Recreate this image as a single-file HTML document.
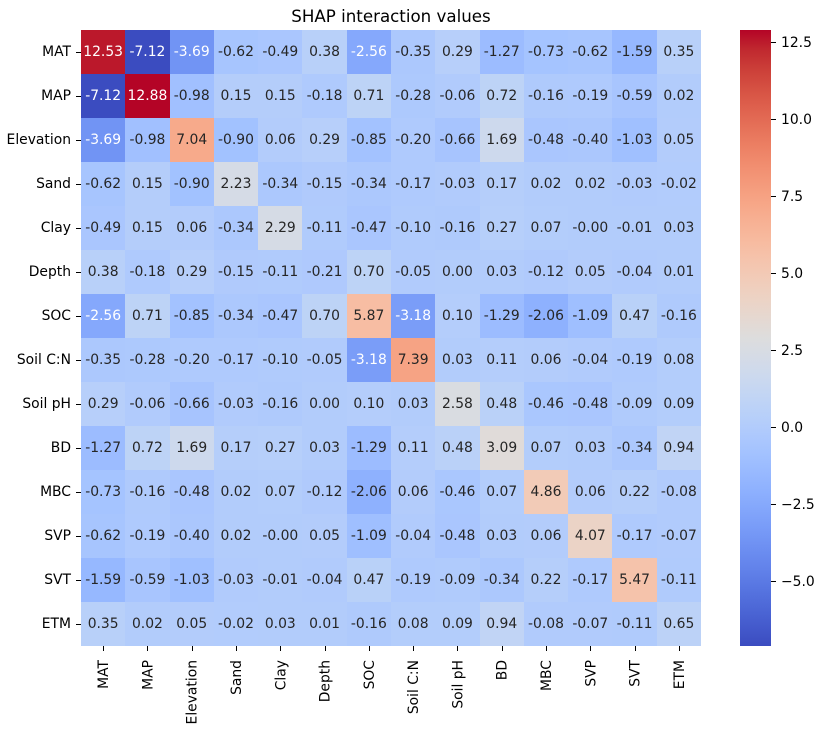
<!DOCTYPE html>
<html lang="en">
<head>
<meta charset="utf-8">
<title>SHAP interaction values</title>
<style>
html,body{margin:0;padding:0;background:#fff;width:821px;height:730px;overflow:hidden}
svg{display:block}
text{font-family:"DejaVu Sans","Liberation Sans",sans-serif}
</style>
</head>
<body>
<svg id="chart" xmlns="http://www.w3.org/2000/svg" width="821" height="730" viewBox="0 0 821 730">
  <defs>
    <linearGradient id="cbar-gradient" x1="0" y1="1" x2="0" y2="0"></linearGradient>
  </defs>
  <text x="391" y="22" text-anchor="middle" font-size="16.67" fill="#000">SHAP interaction values</text>
  <g id="cells"></g>
  <g id="annotations"></g>
  <g id="y-axis"></g>
  <g id="x-axis"></g>
  <rect id="cbar" fill="url(#cbar-gradient)"></rect>
  <g id="cbar-axis"></g>
</svg>
<script>
const categories = ["MAT","MAP","Elevation","Sand","Clay","Depth","SOC","Soil C:N","Soil pH","BD","MBC","SVP","SVT","ETM"];
const rowMAT = [12.53,-7.12,-3.69,-0.62,-0.49,0.38,-2.56,-0.35,0.29,-1.27,-0.73,-0.62,-1.59,0.35];
const rowMAP = [-7.12,12.88,-0.98,0.15,0.15,-0.18,0.71,-0.28,-0.06,0.72,-0.16,-0.19,-0.59,0.02];
const rowElevation = [-3.69,-0.98,7.04,-0.90,0.06,0.29,-0.85,-0.20,-0.66,1.69,-0.48,-0.40,-1.03,0.05];
const rowSand = [-0.62,0.15,-0.90,2.23,-0.34,-0.15,-0.34,-0.17,-0.03,0.17,0.02,0.02,-0.03,-0.02];
const rowClay = [-0.49,0.15,0.06,-0.34,2.29,-0.11,-0.47,-0.10,-0.16,0.27,0.07,-0.004,-0.01,0.03];
const rowDepth = [0.38,-0.18,0.29,-0.15,-0.11,-0.21,0.70,-0.05,0.00,0.03,-0.12,0.05,-0.04,0.01];
const rowSOC = [-2.56,0.71,-0.85,-0.34,-0.47,0.70,5.87,-3.18,0.10,-1.29,-2.06,-1.09,0.47,-0.16];
const rowSoilCN = [-0.35,-0.28,-0.20,-0.17,-0.10,-0.05,-3.18,7.39,0.03,0.11,0.06,-0.04,-0.19,0.08];
const rowSoilPH = [0.29,-0.06,-0.66,-0.03,-0.16,0.00,0.10,0.03,2.58,0.48,-0.46,-0.48,-0.09,0.09];
const rowBD = [-1.27,0.72,1.69,0.17,0.27,0.03,-1.29,0.11,0.48,3.09,0.07,0.03,-0.34,0.94];
const rowMBC = [-0.73,-0.16,-0.48,0.02,0.07,-0.12,-2.06,0.06,-0.46,0.07,4.86,0.06,0.22,-0.08];
const rowSVP = [-0.62,-0.19,-0.40,0.02,-0.004,0.05,-1.09,-0.04,-0.48,0.03,0.06,4.07,-0.17,-0.07];
const rowSVT = [-1.59,-0.59,-1.03,-0.03,-0.01,-0.04,0.47,-0.19,-0.09,-0.34,0.22,-0.17,5.47,-0.11];
const rowETM = [0.35,0.02,0.05,-0.02,0.03,0.01,-0.16,0.08,0.09,0.94,-0.08,-0.07,-0.11,0.65];
const matrix = [rowMAT,rowMAP,rowElevation,rowSand,rowClay,rowDepth,rowSOC,rowSoilCN,rowSoilPH,rowBD,rowMBC,rowSVP,rowSVT,rowETM];
const colorbarTicks = [12.5,10,7.5,5,2.5,0,-2.5,-5];
const coolwarmStops = [[59,76,192],[68,90,204],[77,104,215],[87,117,225],[98,130,234],[108,142,241],[119,154,247],[130,165,251],[141,176,254],[152,185,255],[163,194,255],[174,201,253],[184,208,249],[194,213,244],[204,217,238],[213,219,230],[221,221,221],[229,216,209],[236,211,197],[241,204,185],[245,196,173],[247,187,160],[247,177,148],[247,166,135],[244,154,123],[241,141,111],[236,127,99],[229,112,88],[222,96,77],[213,80,66],[203,62,56],[192,40,47],[180,4,38]];

const NS = "http://www.w3.org/2000/svg";
const plot = {left:81, right:701, top:30, bottom:646};
const cbarBox = {left:740, right:771, top:30, bottom:646};
const n = categories.length;
const flat = matrix.flat();
const vmin = Math.min(...flat);
const vmax = Math.max(...flat);
const xScale = i => plot.left + (plot.right - plot.left) * i / n;
const yScale = i => plot.top + (plot.bottom - plot.top) * i / n;
const cbarY = v => cbarBox.bottom - (v - vmin) / (vmax - vmin) * (cbarBox.bottom - cbarBox.top);

function colorAt(t){
  const p = Math.max(0, Math.min(1, t)) * (coolwarmStops.length - 1);
  const i = Math.min(Math.floor(p), coolwarmStops.length - 2);
  const f = p - i;
  return coolwarmStops[i].map((c, k) => c + (coolwarmStops[i + 1][k] - c) * f);
}
function luminance(rgb){
  const l = rgb.map(c => { const s = c / 255; return s <= 0.03928 ? s / 12.92 : Math.pow((s + 0.055) / 1.055, 2.4); });
  return 0.2126 * l[0] + 0.7152 * l[1] + 0.0722 * l[2];
}
function make(tag, attrs, parent, content){
  const el = document.createElementNS(NS, tag);
  for (const k in attrs) el.setAttribute(k, attrs[k]);
  if (content !== undefined) el.textContent = content;
  parent.appendChild(el);
  return el;
}
const cssRgb = c => "rgb(" + c.map(Math.round).join(",") + ")";

const cellsG = document.getElementById("cells");
const annG = document.getElementById("annotations");
const yG = document.getElementById("y-axis");
const xG = document.getElementById("x-axis");
const cbarG = document.getElementById("cbar-axis");

matrix.forEach((row, r) => {
  row.forEach((value, c) => {
    const color = colorAt((value - vmin) / (vmax - vmin));
    const x0 = Math.round(xScale(c)), x1 = Math.round(xScale(c + 1));
    const y0 = Math.round(yScale(r)), y1 = Math.round(yScale(r + 1));
    const cell = make("rect", {x:x0, y:y0, width:x1 - x0, height:y1 - y0, fill:cssRgb(color), "shape-rendering":"crispEdges"}, cellsG);
    
    
    const label = make("text", {x:xScale(c + 0.5), y:yScale(r + 0.5) + 4, "text-anchor":"middle", "font-size":"13.89", fill:luminance(color) > 0.408 ? "#262626" : "#ffffff"}, annG, value.toFixed(2));
    
    
  });
});

categories.forEach((name, i) => {
  const yc = yScale(i + 0.5);
  const yTick = make("line", {x1:76, x2:81, y1:yc + 0.5, y2:yc + 0.5, stroke:"#000", "stroke-width":1, "shape-rendering":"crispEdges"}, yG);
  
  
  const yLabel = make("text", {x:71, y:yc + 4, "text-anchor":"end", "font-size":"13.89", fill:"#000"}, yG, name);
  
  

  const xc = xScale(i + 0.5);
  const xTick = make("line", {x1:Math.round(xc) + 0.5, x2:Math.round(xc) + 0.5, y1:646, y2:651, stroke:"#000", "stroke-width":1, "shape-rendering":"crispEdges"}, xG);
  
  
  const xLabel = make("text", {transform:"translate(" + (xc + 5) + ",660) rotate(-90)", x:0, y:0, "text-anchor":"end", "font-size":"13.89", fill:"#000"}, xG, name);
  
  
});

const grad = document.getElementById("cbar-gradient");
coolwarmStops.forEach((c, i) => {
  make("stop", {offset:i / (coolwarmStops.length - 1), "stop-color":cssRgb(c)}, grad);
});
const bar = document.getElementById("cbar");
bar.setAttribute("x", cbarBox.left);
bar.setAttribute("y", cbarBox.top);
bar.setAttribute("width", cbarBox.right - cbarBox.left);
bar.setAttribute("height", cbarBox.bottom - cbarBox.top);

colorbarTicks.forEach(v => {
  const y = cbarY(v);
  const tick = make("line", {x1:771, x2:776, y1:Math.round(y) + 0.5, y2:Math.round(y) + 0.5, stroke:"#000", "stroke-width":1, "shape-rendering":"crispEdges"}, cbarG);
  
  
  const label = make("text", {x:781, y:Math.round(y + 5), "font-size":"13.89", fill:"#000"}, cbarG, v.toFixed(1).replace("-", "\u2212"));
  
  
});
</script>
</body>
</html>
